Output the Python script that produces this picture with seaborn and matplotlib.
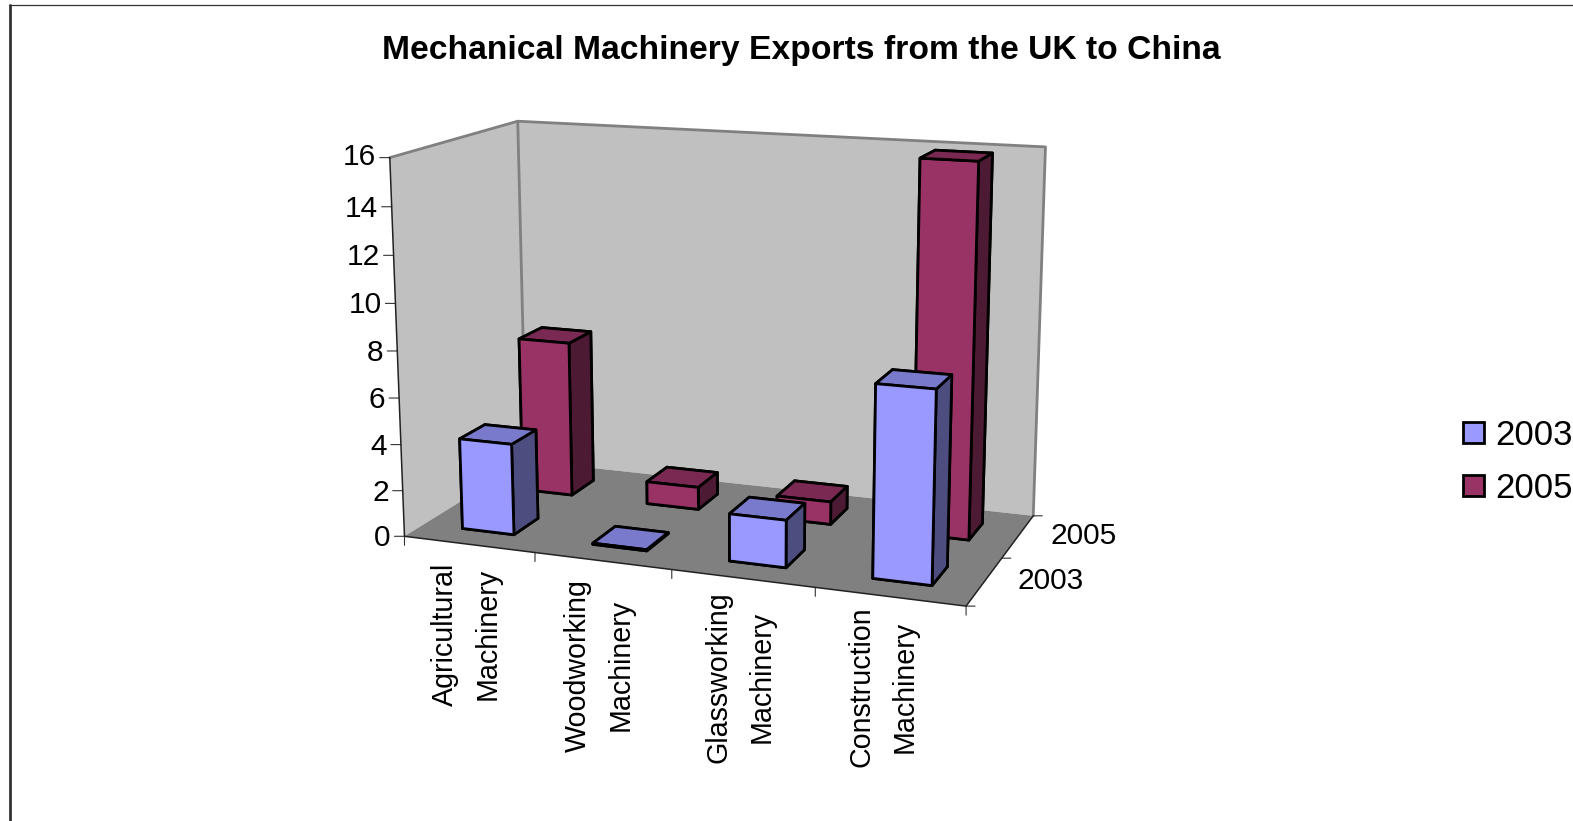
import numpy as np
import pandas as pd
import seaborn as sns
import matplotlib
matplotlib.use('Agg')
import matplotlib.pyplot as plt
from matplotlib.lines import Line2D
from matplotlib.patches import Patch
from mpl_toolkits.mplot3d import proj3d
from mpl_toolkits.mplot3d.art3d import Poly3DCollection


## DATA
categories = ['Agricultural\nMachinery', 'Woodworking\nMachinery',
              'Glassworking\nMachinery', 'Construction\nMachinery']
series = ['2003', '2005']
values_2003 = [3.95, 0.05, 2.0, 7.95]
values_2005 = [6.95, 1.0, 1.0, 15.9]
z_ticks = [0, 2, 4, 6, 8, 10, 12, 14, 16]
title = 'Mechanical Machinery Exports from the UK to China'

exports = pd.DataFrame({'category': categories * 2,
                        'series': np.repeat(series, 4),
                        'value': values_2003 + values_2005})


## STYLE
sns.set_theme(style='white', font='Liberation Sans')
palette = dict(zip(series, sns.color_palette(['#9999FF', '#993366'])))

W, H = 1573, 821
FONT = 21.5
LABEL_SHIFT = [-3, -3, -3, -7]
LABEL_DROP = [-18, -18, -13, -10]


def shade(color, factor):
    return tuple(c * factor for c in color)


## FIGURE AND CAMERA
fig = plt.figure(figsize=(W / 100, H / 100), dpi=100)
side = 728.6
ax = fig.add_axes([348.6 / W, 103.9 / H, side / W, side / H],
                  projection='3d', computed_zorder=False)
ax.set_axis_off()


## BARS, BACK ROW FIRST
order = 10
for name in reversed(series):
    j = series.index(name)
    for i, cat in enumerate(categories):
        row = exports[(exports['category'] == cat) & (exports['series'] == name)]
        c = palette[name]
        # faces: bottom, top, front, back, left, right
        faces = [c, shade(c, 0.8), c, c, c, shade(c, 0.5)]
        ax.bar3d(i + 0.3, j + 0.3, 0, 0.4, 0.4, row['value'].iloc[0],
                 color=faces, shade=False, edgecolor='black', linewidth=2.0,
                 zorder=order)
        order += 1

nx, ny, nz = len(categories), len(series), z_ticks[-1]
ax.set_xlim(0, nx)
ax.set_ylim(0, ny)
ax.set_zlim(0, nz)
ax.view_init(elev=13.461, azim=-69.488, roll=0.135)
ax.set_proj_type('persp', focal_length=0.5429)
ax.set_box_aspect((1.5091, 0.7353, 1.0))


## WALLS AND FLOOR
left_wall = [(0, 0, 0), (0, ny, 0), (0, ny, nz), (0, 0, nz)]
back_wall = [(0, ny, 0), (nx, ny, 0), (nx, ny, nz), (0, ny, nz)]
floor = [(0, 0, 0), (nx, 0, 0), (nx, ny, 0), (0, ny, 0)]
ax.add_collection3d(Poly3DCollection([left_wall, back_wall], facecolors='#C0C0C0',
                                     edgecolors='none', zorder=1))
ax.add_collection3d(Poly3DCollection([floor], facecolors='#808080',
                                     edgecolors='none', zorder=2))

gray = dict(color='#808080', linewidth=2.0, zorder=3)
ax.plot([0, 0, nx, nx], [0, ny, ny, ny], [nz, nz, nz, 0], **gray)
ax.plot([0, 0], [ny, ny], [nz, 0], **gray)
dark = dict(color='#222222', linewidth=1.1, zorder=4)
ax.plot([0, 0], [0, 0], [nz, 0], **dark)
ax.plot([0, nx, nx], [0, 0, ny], [0, 0, 0], **dark)


## TICKS AND LABELS ARE PLACED ON THE PROJECTED AXES
M = ax.get_proj()


def tick(x, y, z, dx, dy, label=None, **kw):
    px, py, _ = proj3d.proj_transform(x, y, z, M)
    if label is None:
        ax.annotate('', xy=(px, py), xytext=(dx, dy), textcoords='offset pixels',
                    arrowprops=dict(arrowstyle='-', color='#333333', lw=0.8,
                                    shrinkA=0, shrinkB=0))
    else:
        ax.annotate(label, xy=(px, py), xytext=(dx, dy), textcoords='offset pixels',
                    color='black', **kw)


for v in z_ticks:
    tick(0, 0, v, -10, 0)
    tick(0, 0, v, -14, -2 if v < 16 else 1, str(v), ha='right', va='center', fontsize=FONT)

for i in range(nx + 1):
    tick(i, 0, 0, 0, -9)
for i, cat in enumerate(categories):
    tick(i + 0.5, 0, 0, LABEL_SHIFT[i], LABEL_DROP[i], cat, ha='center', va='top', rotation=90,
         linespacing=1.68, multialignment='center', fontsize=20.6)

for j in range(ny + 1):
    tick(nx, j, 0, 9, 0)
for j, name in enumerate(series):
    tick(nx, j + 0.5, 0, 33, 0, name, ha='left', va='center', fontsize=FONT)


## TITLE, LEGEND AND CHART BORDER
fig.text(801 / W, 1 - 51 / H, title, fontsize=24.2, fontweight='bold',
         ha='center', va='center', color='black')

handles = [Patch(facecolor=palette[s], edgecolor='black', linewidth=2.0, label=s)
           for s in series]
fig.legend(handles=handles, loc='upper left', bbox_to_anchor=(1463 / W, 1 - 419 / H),
           frameon=False, fontsize=25, handlelength=0.6, handleheight=0.55,
           handletextpad=0.32, labelspacing=0.57, borderpad=0, borderaxespad=0,
           labelcolor='black')

fig.add_artist(Line2D([10 / W, 10 / W], [0, 1 - 5.5 / H], color='#333333', linewidth=2.0))
fig.add_artist(Line2D([9 / W, 1], [1 - 5.5 / H, 1 - 5.5 / H], color='#333333', linewidth=0.9))

fig.savefig('out.png', dpi=100)
